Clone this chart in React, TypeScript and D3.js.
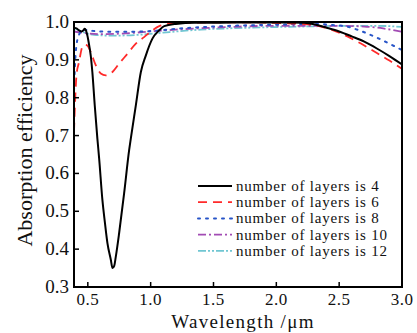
import React from 'react';
import * as d3 from 'd3';

// 4 layers (black solid)
const wl4 = [0.39, 0.41, 0.43, 0.45, 0.465, 0.475, 0.485, 0.496, 0.51, 0.523, 0.536, 0.555, 0.576, 0.59, 0.616, 0.636, 0.656, 0.683, 0.696, 0.71, 0.723, 0.749, 0.789, 0.829, 0.842, 0.882, 0.922, 0.962, 1.014, 1.068, 1.108, 1.2, 1.35, 1.5, 1.8, 2.1, 2.22, 2.3, 2.4, 2.5, 2.6, 2.7, 2.8, 2.9, 3.0];
const eff4 = [0.985, 0.983, 0.978, 0.975, 0.978, 0.982, 0.978, 0.965, 0.94, 0.912, 0.868, 0.78, 0.692, 0.64, 0.53, 0.47, 0.416, 0.372, 0.35, 0.356, 0.381, 0.442, 0.548, 0.662, 0.692, 0.78, 0.868, 0.912, 0.956, 0.978, 0.989, 0.995, 0.998, 0.998, 0.999, 0.999, 0.998, 0.994, 0.985, 0.975, 0.962, 0.948, 0.93, 0.91, 0.888];

// 6 layers (red dashed)
const wl6 = [0.39, 0.40, 0.41, 0.43, 0.456, 0.48, 0.496, 0.523, 0.563, 0.603, 0.643, 0.696, 0.749, 0.815, 0.882, 0.948, 1.014, 1.068, 1.2, 1.5, 1.8, 2.03, 2.2, 2.3, 2.4, 2.5, 2.6, 2.7, 2.8, 2.9, 3.0];
const eff6 = [0.71, 0.8, 0.86, 0.894, 0.934, 0.94, 0.938, 0.921, 0.886, 0.864, 0.859, 0.868, 0.89, 0.916, 0.943, 0.96, 0.978, 0.989, 0.997, 0.999, 0.999, 0.997, 0.995, 0.992, 0.984, 0.972, 0.956, 0.938, 0.918, 0.898, 0.876];

// 8 layers (blue dotted)
const wl8 = [0.39, 0.40, 0.41, 0.43, 0.46, 0.5, 0.6, 0.8, 1.0, 1.2, 1.5, 2.0, 2.3, 2.45, 2.56, 2.65, 2.81, 2.97, 3.0];
const eff8 = [0.82, 0.9, 0.94, 0.966, 0.98, 0.978, 0.975, 0.974, 0.976, 0.982, 0.988, 0.993, 0.995, 0.992, 0.988, 0.979, 0.957, 0.931, 0.926];

// 10 layers (purple dash-dot)
const wl10 = [0.39, 0.45, 0.6, 0.8, 1.0, 1.2, 1.5, 2.0, 2.5, 2.7, 2.85, 3.0];
const eff10 = [0.975, 0.972, 0.968, 0.97, 0.975, 0.98, 0.985, 0.99, 0.99, 0.988, 0.983, 0.974];

// 12 layers (cyan dash-dot-dot)
const wl12 = [0.39, 0.45, 0.55, 0.7, 0.9, 1.1, 1.4, 1.8, 2.2, 2.6, 2.8, 3.0];
const eff12 = [0.985, 0.975, 0.966, 0.964, 0.966, 0.972, 0.98, 0.985, 0.988, 0.99, 0.99, 0.987];

const xTicks = [0.5, 1.0, 1.5, 2.0, 2.5, 3.0];
const yTicks = [0.3, 0.4, 0.5, 0.6, 0.7, 0.8, 0.9, 1.0];

const seriesNames = ['number of layers is 4', 'number of layers is 6', 'number of layers is 8', 'number of layers is 10', 'number of layers is 12'];

const W = 417;
const H = 333;
const margin = { top: 22, right: 15, bottom: 46, left: 74 };
const FONT = "'Liberation Serif', 'DejaVu Serif', 'Times New Roman', serif";

export default function App() {
  const x = d3.scaleLinear().domain([0.39, 3.0]).range([margin.left, W - margin.right]);
  const y = d3.scaleLinear().domain([0.3, 1.0]).range([H - margin.bottom, margin.top]);

  const line = d3.line<[number, number]>()
    .x(d => x(d[0]))
    .y(d => y(d[1]))
    .curve(d3.curveMonotoneX);

  // styles for each series
  const styles = [
    { color: '#000000', dash: null, width: 2 },
    { color: '#ff2a2a', dash: '9,6', width: 1.8 },
    { color: '#2855c8', dash: '2,6', width: 2 },
    { color: '#a24cb4', dash: '8,3,2,3', width: 1.8 },
    { color: '#70c6d2', dash: '8,2,2,2,2,2', width: 1.8 },
  ];

  const series = [
    d3.zip(wl4, eff4),
    d3.zip(wl6, eff6),
    d3.zip(wl8, eff8),
    d3.zip(wl10, eff10),
    d3.zip(wl12, eff12),
  ] as [number, number][][];

  const x0 = margin.left, x1 = W - margin.right;
  const y0 = margin.top, y1 = H - margin.bottom;

  // legend placement
  const legX = 198, legY = 186, legStep = 16.2;
  const txt = { fontFamily: FONT };

  return (
    <svg width={W} height={H} style={{ position: 'fixed', left: 0, top: 0, background: '#fff' }}>
      <defs>
        <clipPath id="plot-clip">
          <rect x={x0} y={y0} width={x1 - x0} height={y1 - y0} />
        </clipPath>
      </defs>
      <rect x={0} y={0} width={W} height={H} fill="#fff" />

      <g clipPath="url(#plot-clip)">
        {series.slice().reverse().map((d, ri) => {
          const i = series.length - 1 - ri;
          const s = styles[i];
          return (
            <path key={i} d={line(d) || ''} fill="none" stroke={s.color}
              strokeWidth={s.width} strokeDasharray={s.dash || undefined}
              strokeLinecap={i === 2 ? 'round' : 'butt'} />
          );
        })}
      </g>

      {/* frame */}
      <rect x={x0} y={y0} width={x1 - x0} height={y1 - y0} fill="none" stroke="#000" strokeWidth={2} />

      {/* x ticks (inward) */}
      {xTicks.map(t => (
        <g key={'x' + t}>
          <line x1={x(t)} x2={x(t)} y1={y1} y2={y1 - 5} stroke="#000" strokeWidth={1.5} />
          <text x={x(t)} y={y1 + 18} textAnchor="middle" fontSize={17} letterSpacing={0.5} fill="#111" style={txt}>{t.toFixed(1)}</text>
        </g>
      ))}

      {/* y ticks (inward) */}
      {yTicks.map(t => (
        <g key={'y' + t}>
          <line x1={x0} x2={x0 + 5} y1={y(t)} y2={y(t)} stroke="#000" strokeWidth={1.5} />
          <text x={x0 - 5} y={y(t) + 6} textAnchor="end" fontSize={19} fill="#111" style={txt}>{t.toFixed(1)}</text>
        </g>
      ))}

      {/* axis titles */}
      <text x={(x0 + x1) / 2 + 5} y={H - 5} textAnchor="middle" fontSize={19} letterSpacing={1.3} fill="#111" style={txt}>Wavelength /μm</text>
      <text transform={`translate(32, ${(y0 + y1) / 2 - 4}) rotate(-90)`} textAnchor="middle" fontSize={22} fill="#111" style={txt}>Absorption efficiency</text>

      {/* legend */}
      {seriesNames.map((name, i) => {
        const s = styles[i];
        const ly = legY + i * legStep;
        return (
          <g key={name}>
            <line x1={legX} x2={legX + 34} y1={ly} y2={ly} stroke={s.color} strokeWidth={s.width}
              strokeDasharray={s.dash || undefined} strokeLinecap={i === 2 ? 'round' : 'butt'} />
            <text x={legX + 38} y={ly + 5} fontSize={15} letterSpacing={0.8} fill="#111" style={txt}>{name}</text>
          </g>
        );
      })}
    </svg>
  );
}
